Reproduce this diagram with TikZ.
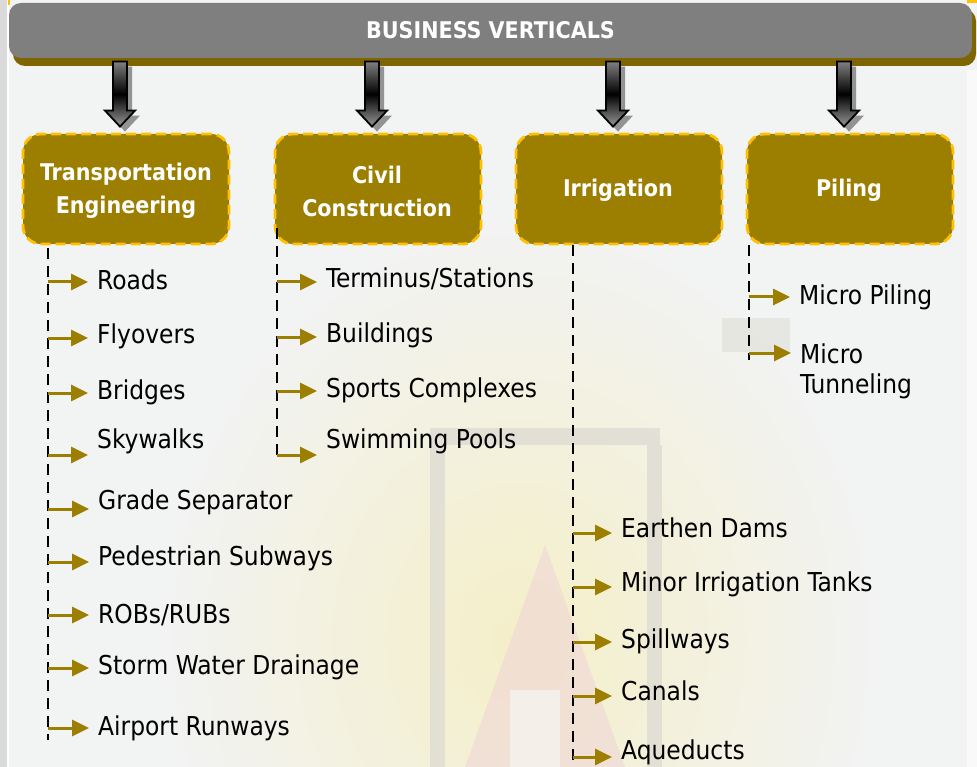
\documentclass[tikz,border=0pt]{standalone}
\usepackage{fontspec}
\setmainfont{DejaVu Sans Condensed}
\usetikzlibrary{arrows.meta}
\definecolor{pagegray}{HTML}{F2F3F3}
\definecolor{edgegray}{HTML}{DADADA}
\definecolor{headgray}{HTML}{7F7F7F}
\definecolor{headshadow}{HTML}{7F6500}
\definecolor{boxolive}{HTML}{9C7E00}
\definecolor{boxyellow}{HTML}{FFC000}
\definecolor{wmyellow}{HTML}{F4EFC8}
\definecolor{wmpink}{HTML}{F0D6D6}
\definecolor{wmgray}{HTML}{DCDAD2}
\tikzset{
  catbox/.style={draw=boxyellow, line width=2.8pt, dash pattern=on 10pt off 5pt,
    fill=boxolive, rounded corners=18pt, minimum width=206pt, minimum height=110pt},
  cattext/.style={inner sep=0pt, text=white, align=center, font=\bfseries\fontsize{23}{33}\selectfont},
  vline/.style={draw=black, line width=2.8pt, dash pattern=on 11pt off 7pt},
  itemtext/.style={anchor=west, inner sep=0pt, align=left, font=\fontsize{26}{30}\selectfont},
  itemarrow/.style={draw=boxolive, line width=3pt, -{Triangle[length=17pt,width=16pt]}, shorten >=9pt}
}
\begin{document}
\begin{tikzpicture}[x=1pt,y=-1pt]
\newcommand\bigarrow[1]{
\begin{scope}[shift={([xshift=-6pt]#1.north)}]
\path[fill=gray!85] (-2,-66) -- (12,-66) -- (12,-17) -- (20,-17) -- (5,-1) -- (-10,-17) -- (-2,-17) -- cycle;
\path[draw=black, line width=1.8pt, top color=gray, bottom color=gray!80, middle color=black]
  (-7,-71) -- (7,-71) -- (7,-22) -- (15,-22) -- (0,-6) -- (-15,-22) -- (-7,-22) -- cycle;
\end{scope}
}
\newcommand\branch[6]{
\node[itemtext] (#1) at (#4,#5) {#6};
\coordinate (#1s) at (#2,#3);
\path[itemarrow] (#1s) -- (#1s -| #1.west);
}
\useasboundingbox (0,0) rectangle (977,767);
\fill[pagegray] (0,0) rectangle (977,767);
\fill[edgegray] (0,0) rectangle (7,767);
\fill[white] (7,0) rectangle (9,767);
\fill[white!50!pagegray] (967,70) rectangle (977,767);
\fill[boxyellow] (8,0) rectangle (10,5);
\fill[boxyellow] (967,0) rectangle (977,3);
\begin{scope}
\clip (9,0) rectangle (967,767);
\shade[inner color=wmyellow, outer color=pagegray] (520,640) ellipse (360 and 420);
\end{scope}
\fill[wmpink, opacity=0.6] (545,545) -- (625,767) -- (465,767) -- cycle;
\fill[pagegray!50!white, opacity=0.6] (510,690) rectangle (560,767);
\fill[wmgray, opacity=0.7] (430,428) rectangle (660,445);
\fill[wmgray, opacity=0.7] (430,445) rectangle (445,767);
\fill[wmgray, opacity=0.7] (647,445) rectangle (662,767);
\fill[wmgray, opacity=0.5] (722,318) rectangle (790,352);
\fill[headshadow, rounded corners=12pt] (13,9) rectangle (976,66);
\node[fill=headgray, rounded corners=12pt, minimum width=963pt, minimum height=55pt, inner sep=0pt,
  text=white, font=\bfseries\fontsize{23}{27}\selectfont] (head) at (490.5,30.5) {BUSINESS VERTICALS};
\node[catbox] (transport) at (126,189) {};
\node[catbox] (civil) at (378,189) {};
\node[catbox] (irrigation) at (619,189) {};
\node[catbox] (piling) at (850,189) {};
\node[cattext] (transportlabel) at (126,191) {Transportation\\Engineering};
\node[cattext] (civillabel) at (377,191) {Civil\\Construction};
\node[cattext] (irrigationlabel) at (618,190) {Irrigation};
\node[cattext] (pilinglabel) at (849,190) {Piling};
\bigarrow{transport}
\bigarrow{civil}
\bigarrow{irrigation}
\bigarrow{piling}
\coordinate (transporttop) at (48,248);
\coordinate (transportend) at (48,740);
\coordinate (civiltop) at (277,228);
\coordinate (civilend) at (277,458);
\coordinate (irrigationtop) at (573,245);
\coordinate (irrigationend) at (573,762);
\coordinate (pilingtop) at (749,245);
\coordinate (pilingend) at (749,360);
\path[vline] (transporttop) -- (transportend);
\path[vline] (civiltop) -- (civilend);
\path[vline] (irrigationtop) -- (irrigationend);
\path[vline] (pilingtop) -- (pilingend);
\branch{roads}{48}{282}{97}{280}{Roads}
\branch{flyovers}{48}{338}{97}{336}{Flyovers}
\branch{bridges}{48}{393}{97}{392}{Bridges}
\branch{skywalks}{48}{455}{97}{441}{Skywalks}
\branch{grade}{48}{509}{98}{502}{Grade Separator}
\branch{subways}{48}{562}{98}{558}{Pedestrian Subways}
\branch{robs}{48}{615}{98}{615}{ROBs/RUBs}
\branch{storm}{48}{668}{98}{667}{Storm Water Drainage}
\branch{runways}{48}{728}{98}{728}{Airport Runways}
\branch{terminus}{277}{282}{326}{279}{Terminus/Stations}
\branch{buildings}{277}{337}{326}{335}{Buildings}
\branch{sports}{277}{391}{326}{390}{Sports Complexes}
\branch{pools}{277}{455}{326}{441}{Swimming Pools}
\branch{dams}{573}{533}{621}{528}{Earthen Dams}
\branch{tanks}{573}{587}{621}{584}{Minor Irrigation Tanks}
\branch{spillways}{573}{642}{621}{641}{Spillways}
\branch{canals}{573}{696}{621}{691}{Canals}
\branch{aqueducts}{573}{757}{621}{752}{Aqueducts}
\branch{micropiling}{749}{297}{799}{297}{Micro Piling}
\branch{tunneling}{749}{353}{800}{371}{Micro\\Tunneling}
\end{tikzpicture}
\end{document}
